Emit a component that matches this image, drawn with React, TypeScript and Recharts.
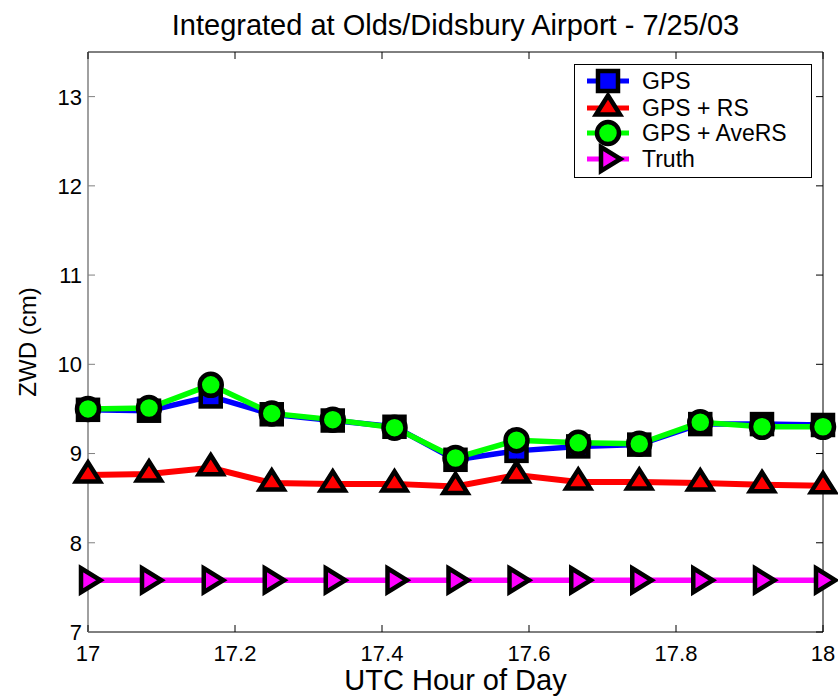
import React from 'react';
import { LineChart, Line, XAxis, YAxis, ReferenceLine, Legend, Customized } from 'recharts';

const hours = [17, 17.083, 17.167, 17.25, 17.333, 17.417, 17.5, 17.583, 17.667, 17.75, 17.833, 17.917, 18];
const gpsZwd = [9.49, 9.48, 9.64, 9.44, 9.37, 9.3, 8.93, 9.03, 9.08, 9.1, 9.33, 9.33, 9.32];
const gpsRsZwd = [8.76, 8.77, 8.84, 8.67, 8.66, 8.66, 8.63, 8.76, 8.68, 8.68, 8.67, 8.65, 8.64];
const gpsAveRsZwd = [9.5, 9.51, 9.77, 9.45, 9.38, 9.29, 8.95, 9.15, 9.12, 9.11, 9.35, 9.3, 9.3];
const truthZwd = [7.58, 7.58, 7.58, 7.58, 7.58, 7.58, 7.58, 7.58, 7.58, 7.58, 7.58, 7.58, 7.58];

const seriesNames = ['GPS', 'GPS + RS', 'GPS + AveRS', 'Truth'];
const xTicks = [17, 17.2, 17.4, 17.6, 17.8, 18];
const yTicks = [7, 8, 9, 10, 11, 12, 13];
const titleText = 'Integrated at Olds/Didsbury Airport - 7/25/03';
const xLabelText = 'UTC Hour of Day';
const yLabelText = 'ZWD (cm)';

const data = hours.map((h, i) => ({
  hour: h,
  gps: gpsZwd[i],
  rs: gpsRsZwd[i],
  ave: gpsAveRsZwd[i],
  truth: truthZwd[i],
}));

const FONT = '"Liberation Sans", Arial, Helvetica, sans-serif';
const W = 838;
const H = 698;
const M = { top: 52, right: 15, bottom: 0, left: 0 };
const YW = 88;
const XH = 66;
const PW = W - M.right - YW - M.left;
const PH = H - M.top - XH;
const PLOT_L = M.left + YW;
const PLOT_T = M.top;

const styles = [
  { key: 'gps', color: '#0000ff', kind: 'square', width: 5.5 },
  { key: 'rs', color: '#ff0000', kind: 'up', width: 6 },
  { key: 'ave', color: '#00ff00', kind: 'circle', width: 5.5 },
  { key: 'truth', color: '#ff00ff', kind: 'right', width: 5.5 },
];

function Marker({ kind, fill, x, y }: { kind: string; fill: string; x: number; y: number }) {
  const s = { fill, stroke: '#000', strokeWidth: 4.5, strokeLinejoin: 'miter' as const };
  switch (kind) {
    case 'square':
      return <rect x={x - 10} y={y - 10} width={20} height={20} {...s} />;
    case 'up':
      return <polygon points={`${x},${y - 12.5} ${x + 12},${y + 6.5} ${x - 12},${y + 6.5}`} {...s} />;
    case 'circle':
      return <circle cx={x} cy={y} r={11} {...s} />;
    default:
      return <polygon points={`${x - 7},${y - 12} ${x + 12.5},${y} ${x - 7},${y + 12}`} {...s} />;
  }
}

const makeDot = (kind: string, fill: string) => (props: any) => {
  const { cx, cy, index } = props;
  if (cx == null || cy == null) return <g key={`d-${kind}-${index}`} />;
  return (
    <g key={`d-${kind}-${index}`}>
      <Marker kind={kind} fill={fill} x={cx} y={cy} />
    </g>
  );
};

const XTick = (props: any) => {
  const { x, y, payload } = props;
  return (
    <g>
      <line x1={x} y1={y} x2={x} y2={y - 7} stroke="#000" strokeWidth={1} />
      <line x1={x} y1={PLOT_T} x2={x} y2={PLOT_T + 7} stroke="#000" strokeWidth={1} />
      <text x={x} y={y + 29} textAnchor="middle" fontFamily={FONT} fontSize={22} fill="#000">
        {String(payload.value)}
      </text>
    </g>
  );
};

const YTick = (props: any) => {
  const { x, y, payload } = props;
  return (
    <g>
      <line x1={x} y1={y} x2={x + 7} y2={y} stroke="#808080" strokeWidth={1} />
      <line x1={PLOT_L + PW - 7} y1={y} x2={PLOT_L + PW} y2={y} stroke="#000" strokeWidth={1} />
      <text x={x - 6} y={y} dy="0.36em" textAnchor="end" fontFamily={FONT} fontSize={22} fill="#000">
        {String(payload.value)}
      </text>
    </g>
  );
};

const Texts = () => (
  <g fontFamily={FONT} fill="#000">
    <text x={PLOT_L + PW / 2} y={35} textAnchor="middle" fontSize={29}>
      {titleText}
    </text>
    <text x={PLOT_L + PW / 2} y={690} textAnchor="middle" fontSize={29}>
      {xLabelText}
    </text>
    <text
      x={0}
      y={0}
      transform={`translate(36, ${PLOT_T + PH / 2}) rotate(-90)`}
      textAnchor="middle"
      fontSize={24}
    >
      {yLabelText}
    </text>
  </g>
);

const rowY = [17, 44, 69, 95];

const renderLegend = () => (
  <svg width={238} height={114} style={{ display: 'block' }}>
    <rect x={0.5} y={0.5} width={237} height={113} fill="#fff" stroke="#000" strokeWidth={1} />
    {seriesNames.map((name, i) => {
      const st = styles[i];
      return (
        <g key={name}>
          <line x1={13} y1={rowY[i]} x2={55} y2={rowY[i]} stroke={st.color} strokeWidth={5} />
          <Marker kind={st.kind} fill={st.color} x={34} y={rowY[i]} />
          <text x={68} y={rowY[i]} dy="0.36em" fontFamily={FONT} fontSize={23} fill="#000">
            {name}
          </text>
        </g>
      );
    })}
  </svg>
);

export default function App() {
  return (
    <div style={{ position: 'absolute', left: 0, top: 0, width: W, height: H, background: '#fff', overflow: 'hidden' }}>
      <LineChart width={W} height={H} data={data} margin={M}>
        <XAxis
          dataKey="hour"
          type="number"
          domain={[17, 18]}
          ticks={xTicks}
          height={XH}
          tickSize={0}
          tickMargin={0}
          tickLine={false}
          axisLine={{ stroke: '#000', strokeWidth: 1 }}
          tick={<XTick />}
          interval={0}
        />
        <YAxis
          type="number"
          domain={[7, 13.5]}
          ticks={yTicks}
          width={YW}
          tickSize={0}
          tickMargin={0}
          tickLine={false}
          axisLine={{ stroke: '#808080', strokeWidth: 1.5 }}
          tick={<YTick />}
          interval={0}
        />
        <ReferenceLine y={13.5} stroke="#000" strokeWidth={1} />
        <ReferenceLine x={18} stroke="#000" strokeWidth={1} />
        {styles.map((st, i) => (
          <Line
            key={st.key}
            type="linear"
            dataKey={st.key}
            name={seriesNames[i]}
            stroke={st.color}
            strokeWidth={st.width}
            dot={makeDot(st.kind, st.color)}
            activeDot={false}
            isAnimationActive={false}
          />
        ))}
        <Legend
          layout="horizontal"
          verticalAlign="middle"
          align="center"
          content={renderLegend}
          wrapperStyle={{ position: 'absolute', top: 64, left: 574, width: 238, height: 114 }}
        />
        <Customized component={Texts} />
      </LineChart>
    </div>
  );
}
